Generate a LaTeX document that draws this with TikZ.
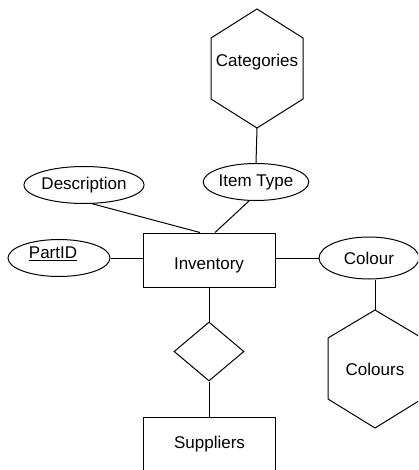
\documentclass[tikz,border=0pt]{standalone}
\usepackage{fontspec}
\setmainfont{Liberation Sans}
\usetikzlibrary{shapes.geometric,calc}
\begin{document}
\begin{tikzpicture}[x=1pt,y=-1pt,
  every node/.style={font=\fontsize{17}{20}\selectfont},
  outline/.style={draw=black,line width=1pt},
  attr/.style={outline,ellipse,inner sep=0pt,minimum width=102pt,minimum height=37pt},
  entity/.style={outline,rectangle,inner sep=0pt,minimum width=132pt,minimum height=54pt},
  relation/.style={outline,diamond,aspect=1.19,inner sep=0pt,minimum width=70pt,minimum height=59pt},
  caption/.style={inner sep=0pt},
  link/.style={line width=1pt}]
\clip (0,0) rectangle (418,470);
\fill[white] (0,0) rectangle (418,470);

% multivalued lookup tables drawn as hexagons
\node[caption] (cat) at (257,62) {Categories};
\coordinate (catc) at (257,68.5);
\draw[outline] ($(catc)+(0,-59.5)$) coordinate (cat-n)
  -- ($(catc)+(46,-30.5)$) -- ($(catc)+(46,30.5)$)
  -- ($(catc)+(0,59.5)$) coordinate (cat-s)
  -- ($(catc)+(-46,30.5)$) -- ($(catc)+(-46,-30.5)$) -- cycle;

\node[caption] (cols) at (375,369) {Colours};
\draw[outline] ($(cols)+(0,-59)$) coordinate (cols-n)
  -- ($(cols)+(47,-31)$) -- ($(cols)+(47,30)$)
  -- ($(cols)+(0,59)$) coordinate (cols-s)
  -- ($(cols)+(-47,30)$) -- ($(cols)+(-47,-31)$) -- cycle;

% attributes
\node[attr] (desc) at (84,185) {Description};
\node[attr] (itype) at (256,182) {Item Type};
\node[attr] (pid) at (59,258) {};
\node[caption] at (53,254) {\underline{PartID}};
\node[attr,minimum width=100pt,minimum height=42pt] (colour) at (369,258) {Colour};

% entities and relationship
\node[entity,label={[yshift=-5pt]center:Inventory}] (inv) at (209,260) {};
\node[relation] (rel) at (209,351.5) {};
\node[entity] (sup) at (209.5,444) {Suppliers};

% connectors
\draw[link] (cat-s) -- (itype.north);
\draw[link] (desc.-66) -- ([xshift=-9pt]inv.north);
\draw[link] (itype.-110) -- ([xshift=6pt]inv.north);
\draw[link] (pid.east) -- (pid.east -| inv.west);
\draw[link] (colour.west) -- (colour.west -| inv.east);
\draw[link] (cols-n) -- (cols-n |- colour.south);
\draw[link] (inv.south) -- (rel.north);
\draw[link] (rel.south) -- (rel.south |- sup.north);
\end{tikzpicture}
\end{document}
